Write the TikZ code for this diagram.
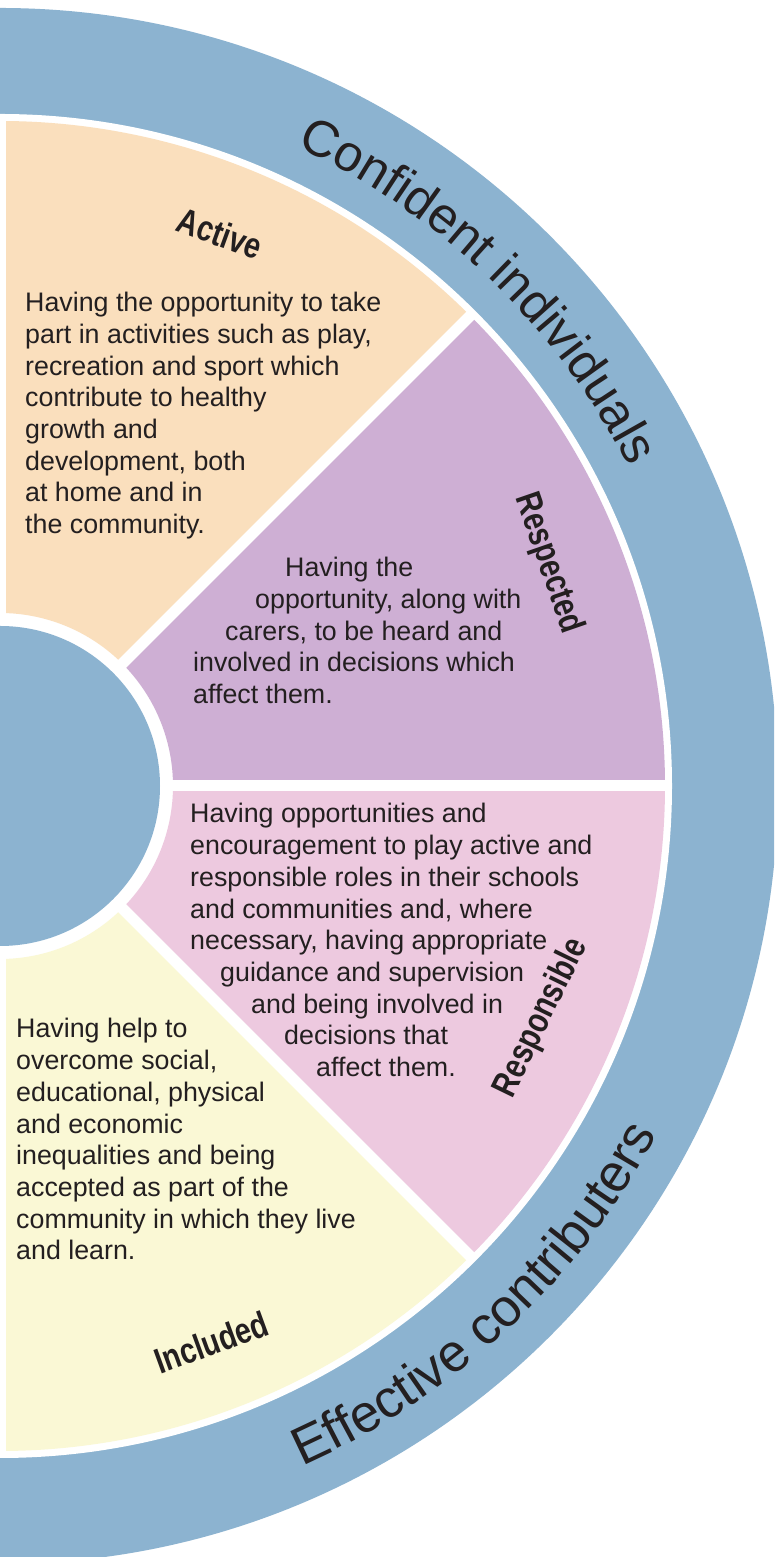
\documentclass[tikz,border=0pt]{standalone}
\usepackage{fontspec}
\usepackage{graphicx}
\setmainfont{Liberation Sans}
\newfontfamily\titlefont{Liberation Sans Bold}
\newcommand\ringfonttop{\fontsize{51}{60}\selectfont}
\newcommand\ringfontbot{\fontsize{53}{62}\selectfont}
\newcommand\cond[1]{\scalebox{0.8}[1]{#1}}
\usetikzlibrary{decorations.text}
\definecolor{ringblue}{RGB}{140,179,208}
\definecolor{peach}{RGB}{250,223,189}
\definecolor{lilac}{RGB}{206,175,212}
\definecolor{rose}{RGB}{237,201,223}
\definecolor{cream}{RGB}{250,248,213}
\definecolor{ink}{RGB}{35,31,32}
\begin{document}
\begin{tikzpicture}[x=1pt,y=1pt,
  body/.style={anchor=base west, inner sep=0pt, text=ink, font=\fontsize{26.8}{31.7}\selectfont},
  title/.style={inner sep=0pt, text=ink, font=\titlefont\fontsize{36}{40}\selectfont},
  gapline/.style={white, line width=11pt},
  ringtext/.style={decorate, decoration={text along path, text align=center, text color=ink}}]
\useasboundingbox (0,0) rectangle (774,1557);
\clip (0,0) rectangle (774,1557);
\fill[white] (0,0) rectangle (774,1557);
\begin{scope}[shift={(0,771)}]
  \coordinate (C) at (0,0);
  \fill[ringblue] (C) circle[radius=778];
  \fill[white] (C) circle[radius=672];
  \fill[peach] (90:173) arc[start angle=90,end angle=45,radius=173] -- (45:665) arc[start angle=45,end angle=90,radius=665] -- cycle;
  \fill[lilac] (45:173) arc[start angle=45,end angle=0,radius=173] -- (0:665) arc[start angle=0,end angle=45,radius=665] -- cycle;
  \fill[rose] (0:173) arc[start angle=0,end angle=-45,radius=173] -- (-45:665) arc[start angle=-45,end angle=0,radius=665] -- cycle;
  \fill[cream] (-45:173) arc[start angle=-45,end angle=-90,radius=173] -- (-90:665) arc[start angle=-90,end angle=-45,radius=665] -- cycle;
  \foreach \a in {90,45,0,-45,-90} \draw[gapline] (C) -- (\a:669);
  \fill[ringblue] (C) circle[radius=160];

  % ring texts
  \path[ringtext, decoration={text={|\ringfonttop|Confident individuals}}] (76:705) arc[start angle=76,end angle=16,radius=705];
  \path[ringtext, decoration={text={|\ringfontbot|Effective contributers}}] (-77:744) arc[start angle=-77,end angle=-17,radius=744];

  % titles
  \node[title, rotate=-20] (tActive) at (68.3:595) {\cond{Active}};
  \node[title, rotate=-71] (tRespected) at (22.1:592) {\cond{Respected}};
  \node[title, rotate=64] (tResponsible) at (-23.2:589) {\cond{Responsible}};
  \node[title, rotate=20] (tIncluded) at (-69.2:595) {\cond{Included}};

  % Active text
  \foreach \t [count=\i from 0] in {Having the opportunity to take, {part in activities such as play,}, recreation and sport which, contribute to healthy, growth and, {development, both}, at home and in, the community.}
    \node[body] (act\i) at (25, 474.3-31.67*\i) {\t};

  % Respected text
  \foreach \x/\t [count=\i from 0] in {285/Having the, 255/{opportunity, along with}, 225/{carers, to be heard and}, 193/involved in decisions which, 193/affect them.}
    \node[body] (res\i) at (\x, 209-31.67*\i) {\t};

  % Responsible text
  \foreach \x/\t [count=\i from 0] in {190/Having opportunities and, 190/encouragement to play active and, 190/responsible roles in their schools, 190/{and communities and, where}, 190/{necessary, having appropriate}, 220/guidance and supervision, 251/and being involved in, 284/decisions that, 316/affect them.}
    \node[body] (rsp\i) at (\x, -37-31.67*\i) {\t};

  % Included text
  \foreach \t [count=\i from 0] in {Having help to, {overcome social,}, {educational, physical}, and economic, inequalities and being, accepted as part of the, community in which they live, and learn.}
    \node[body] (inc\i) at (16, -252-31.67*\i) {\t};
\end{scope}
\end{tikzpicture}
\end{document}
